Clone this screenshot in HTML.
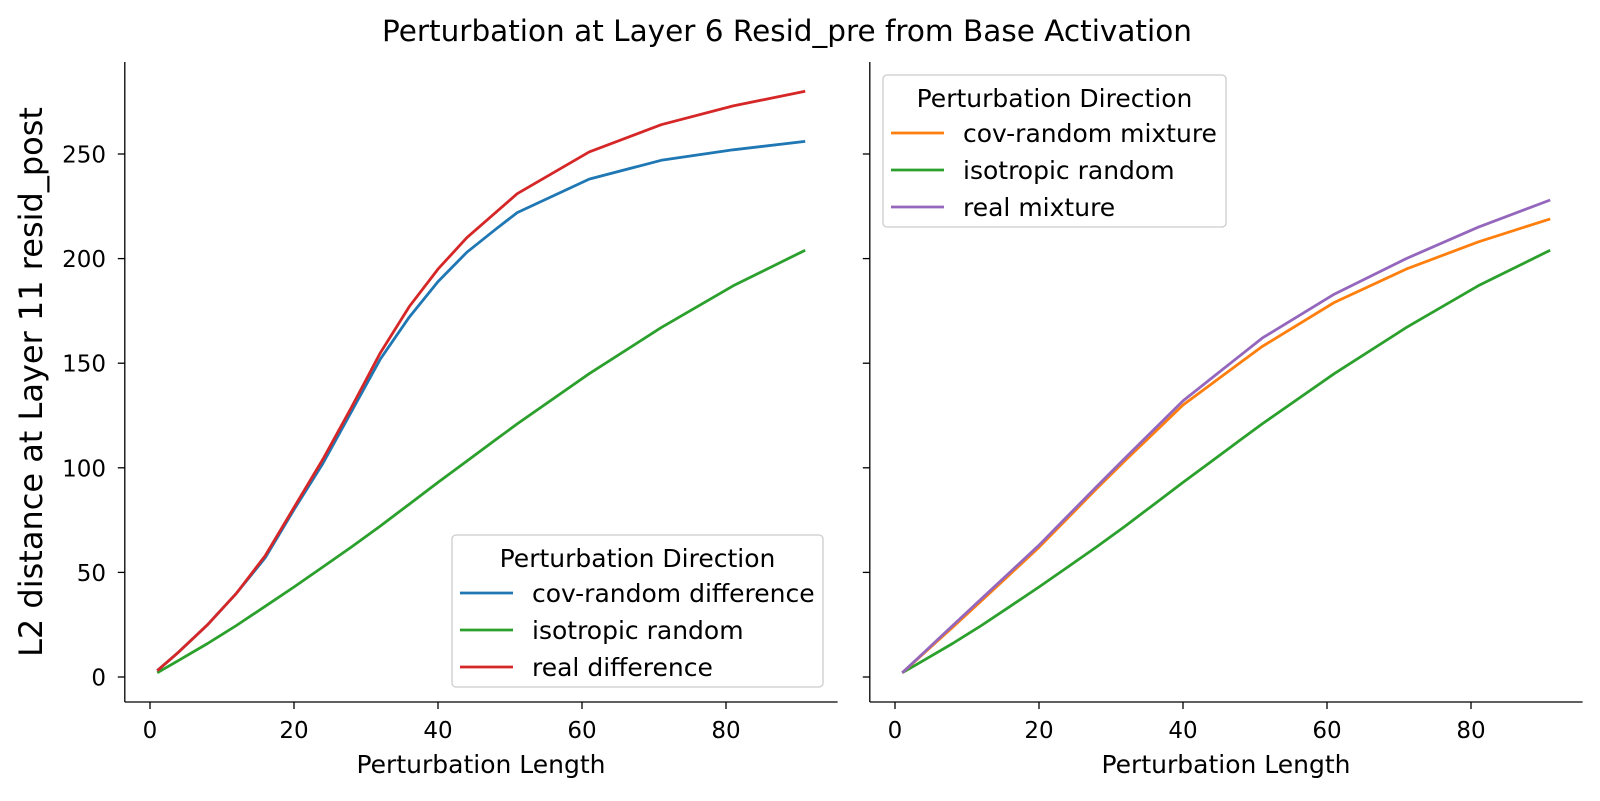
<!DOCTYPE html>
<html><head><meta charset="utf-8"><style>
body{margin:0;background:#fff}
text{font-family:"DejaVu Sans","Liberation Sans",sans-serif;fill:#000}
</style></head><body>
<svg id="s" width="1600" height="796" xmlns="http://www.w3.org/2000/svg"></svg>
<script>
const s=document.getElementById('s');let h='';
h+='<rect width="1600" height="796" fill="#fff"/>';
h+='<text x="787" y="41" font-size="29.5" text-anchor="middle">Perturbation at Layer 6 Resid_pre from Base Activation</text>';
const Y=v=>677-v*2.092;
const panels=[150,895];
const xs=[1,4,8,12,16,20,24,28,32,36,40,44,48,51,61,71,81,91];
function interp(pts){return xs.map(x=>{for(let i=0;i<pts.length-1;i++){const[a,b]=pts[i],[c,d]=pts[i+1];if(x>=a&&x<=c)return b+(d-b)*(x-a)/(c-a);}return pts[pts.length-1][1];});}
const iso=[[1,2],[10,20],[20,43],[30,67],[40,93],[51,121],[61,145],[71,167],[81,187],[91,204]];
const real=[[1,3],[4,12],[8,25],[12,40],[16,58],[20,81],[24,104],[28,129],[32,155],[36,177],[40,195],[44,210],[48,222],[51,231],[61,251],[71,264],[81,273],[91,280]];
const cov=[[1,3],[4,12],[8,25],[12,40],[16,57],[20,80],[24,102],[28,127],[32,152],[36,172],[40,189],[44,203],[48,214],[51,222],[61,238],[71,247],[81,252],[91,256]];
const covm=[[1,2],[10,30],[20,62],[30,97],[40,130],[51,158],[61,179],[71,195],[81,208],[91,219]];
const realm=[[1,2],[10,31],[20,63],[30,98],[40,132],[51,162],[61,183],[71,200],[81,215],[91,228]];
function line(x0,pts,c){const v=interp(pts);h+='<polyline fill="none" stroke="'+c+'" stroke-width="2.8" stroke-linejoin="round" points="'+xs.map((x,i)=>(x0+x*7.2).toFixed(1)+','+Y(v[i]).toFixed(1)).join(' ')+'"/>';}
panels.forEach((x0,p)=>{
 const L=x0-25.2,R=x0+687.6;
 h+='<line x1="'+L+'" y1="62" x2="'+L+'" y2="702" stroke="#000" stroke-width="1.3"/>';
 h+='<line x1="'+L+'" y1="702" x2="'+R+'" y2="702" stroke="#000" stroke-width="1.3"/>';
 for(let v=0;v<=80;v+=20){const x=x0+v*7.2;h+='<line x1="'+x+'" y1="702" x2="'+x+'" y2="709" stroke="#000" stroke-width="1.3"/><text x="'+x+'" y="738" font-size="23" text-anchor="middle">'+v+'</text>';}
 for(let v=0;v<=250;v+=50){const y=Y(v);h+='<line x1="'+(L-7)+'" y1="'+y+'" x2="'+L+'" y2="'+y+'" stroke="#000" stroke-width="1.3"/>';if(p==0)h+='<text x="106" y="'+(y+8.5)+'" font-size="23" text-anchor="end">'+v+'</text>';}
 h+='<text x="'+(x0+331)+'" y="773" font-size="25" text-anchor="middle">Perturbation Length</text>';
});
h+='<text transform="translate(42,382) rotate(-90)" font-size="32" text-anchor="middle">L2 distance at Layer 11 resid_post</text>';
line(150,iso,'#2ca02c');line(150,cov,'#1f77b4');line(150,real,'#d62728');
line(895,iso,'#2ca02c');line(895,covm,'#ff7f0e');line(895,realm,'#9467bd');
function legend(x,y,w,items){
 h+='<rect x="'+x+'" y="'+y+'" width="'+w+'" height="152" rx="4" fill="#fff" fill-opacity="0.85" stroke="#ccc" stroke-width="1.3"/>';
 h+='<text x="'+(x+w/2)+'" y="'+(y+32)+'" font-size="25" text-anchor="middle">Perturbation Direction</text>';
 items.forEach((it,i)=>{const cy=y+58+i*37;h+='<line x1="'+(x+8)+'" y1="'+cy+'" x2="'+(x+61)+'" y2="'+cy+'" stroke="'+it[1]+'" stroke-width="2.8"/><text x="'+(x+80)+'" y="'+(cy+9)+'" font-size="25">'+it[0]+'</text>';});
}
legend(452,535,371,[['cov-random difference','#1f77b4'],['isotropic random','#2ca02c'],['real difference','#d62728']]);
legend(883,75,343,[['cov-random mixture','#ff7f0e'],['isotropic random','#2ca02c'],['real mixture','#9467bd']]);
s.innerHTML=h;
</script>
</body></html>
